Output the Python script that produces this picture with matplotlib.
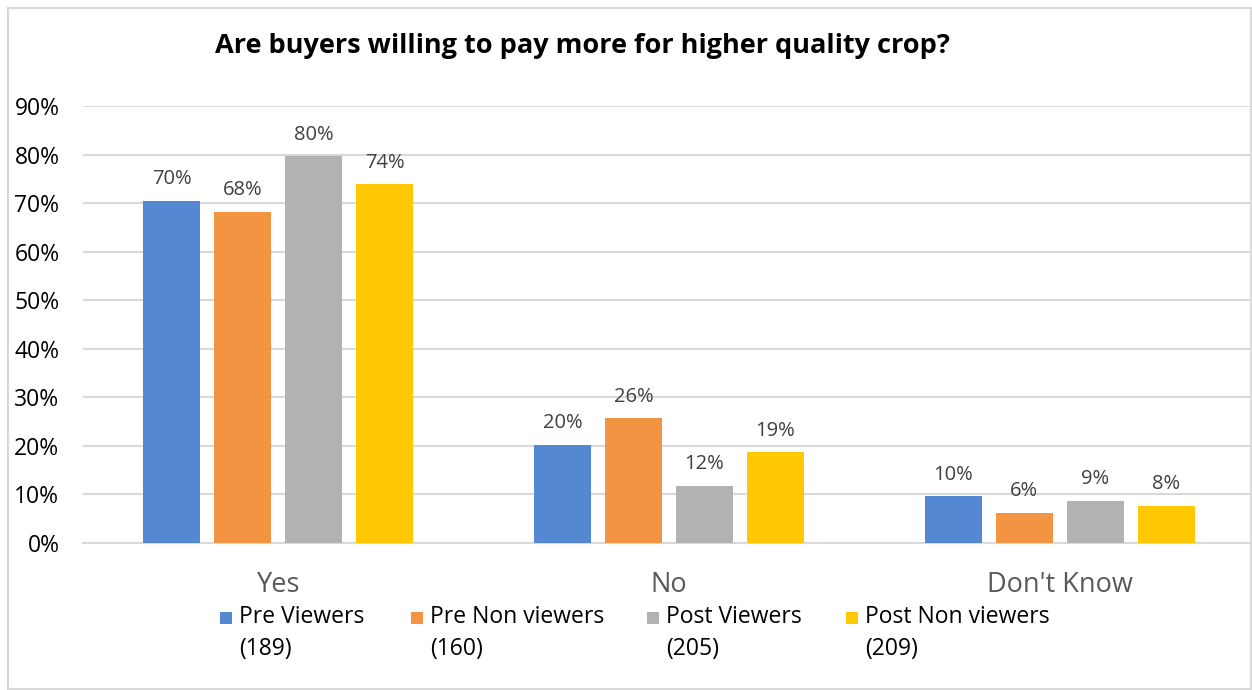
import matplotlib
matplotlib.use("Agg")
import matplotlib.pyplot as plt
import numpy as np
from matplotlib.patches import Rectangle

categories = ["Yes", "No", "Don't Know"]
series = ["Pre Viewers", "Pre Non viewers", "Post Viewers", "Post Non viewers"]
counts = ["(189)", "(160)", "(205)", "(209)"]
pre_viewers = [70.5, 20.2, 9.6]
pre_non = [68.2, 25.7, 6.2]
post_viewers = [79.6, 11.8, 8.7]
post_non = [73.9, 18.7, 7.7]
labels = [["70%", "20%", "10%"], ["68%", "26%", "6%"], ["80%", "12%", "9%"], ["74%", "19%", "8%"]]
colors = ["#5588d2", "#f29442", "#b2b2b2", "#ffc802"]

plt.rcParams['font.family'] = ["Open Sans", "DejaVu Sans"]

W, H = 1252, 690
fig = plt.figure(figsize=(W / 100, H / 100), dpi=100)
# light grey chart border
fig.patches.append(Rectangle((8/W, 0.002), 1 - 8/W - 0.001, 1 - 8/H - 0.002, transform=fig.transFigure,
                             fill=False, edgecolor="#d9d9d9", linewidth=1.5))

ax = fig.add_axes([83/W, (H-543)/H, 1172/W, (543-106)/H])
x = np.arange(len(categories))
width = 0.146
step = 0.1815
data = [pre_viewers, pre_non, post_viewers, post_non]
for i, vals in enumerate(data):
    pos = x + (i - 1.5) * step
    ax.bar(pos, vals, width, color=colors[i], zorder=3)
    for p, v, t in zip(pos, vals, labels[i]):
        ax.text(p, v + 2.4, t, ha="center", va="bottom", fontsize=14.5, color="#404040")

ax.set_xlim(-0.5, 2.5)
ax.set_ylim(0, 90)
ax.set_yticks(np.arange(0, 91, 10))
ax.set_yticklabels([f"{v}%" for v in range(0, 91, 10)], fontsize=16.5, color="black")
ax.set_xticks(x)
ax.set_xticklabels(categories, fontsize=19.5, color="#595959")
ax.tick_params(axis="both", length=0)
ax.tick_params(axis="y", pad=17)
ax.tick_params(axis="x", pad=20)
ax.grid(axis="y", color="#d9d9d9", linewidth=1.5, zorder=0)
for s in ["top", "right", "left"]:
    ax.spines[s].set_visible(False)
ax.spines["bottom"].set_color("#d9d9d9")
ax.spines["bottom"].set_linewidth(1.5)

fig.text(582/W, 1 - 46/H, "Are buyers willing to pay more for higher quality crop?",
         ha="center", va="center", fontsize=19.5, fontweight="bold")

# legend drawn by hand: square marker + two-line label
marker_x = [220, 411, 647, 846]
for mx, c, name, n in zip(marker_x, colors, series, counts):
    fig.patches.append(Rectangle((mx/W, 1 - 624/H), 12/W, 12/H, transform=fig.transFigure,
                                 facecolor=c, edgecolor="none"))
    fig.text((mx + 19)/W, 1 - 617/H, name, ha="left", va="center", fontsize=16.5)
    fig.text((mx + 19)/W, 1 - 649/H, n, ha="left", va="center", fontsize=16.5)

fig.savefig("out.png", dpi=100)
